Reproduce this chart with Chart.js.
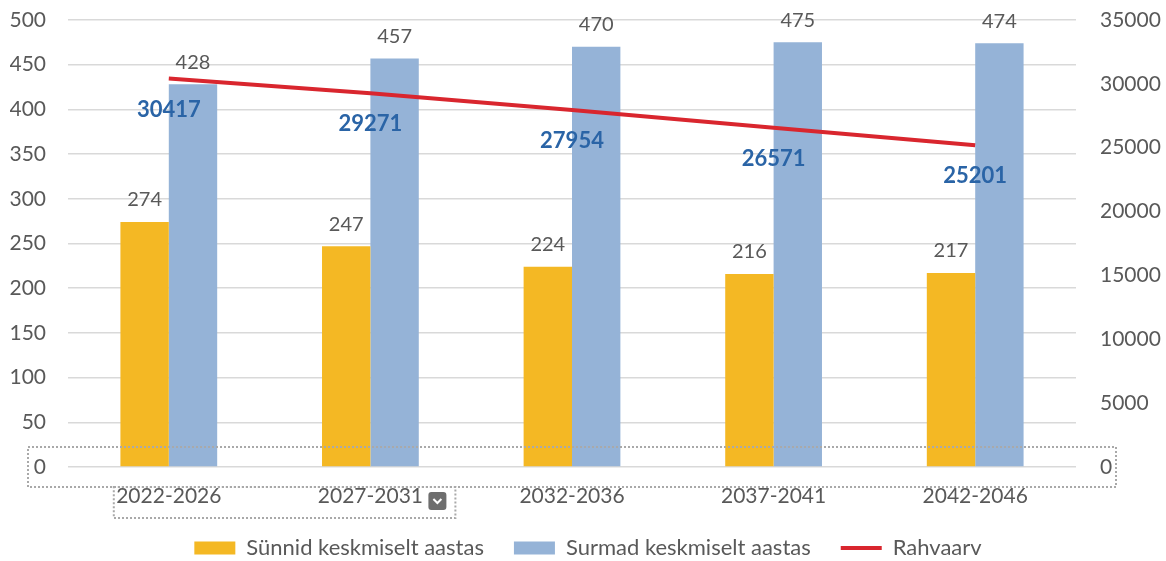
<!DOCTYPE html>
<html>
<head>
<meta charset="utf-8">
<script src="https://cdn.jsdelivr.net/npm/chart.js@4.4.0/dist/chart.umd.min.js"></script>
<style>
  body { margin: 0; background: #fff; }
  #wrap { width: 1166px; height: 561px; }
</style>
</head>
<body>
<div id="wrap"><canvas id="chart" width="1166" height="561"></canvas></div>
<script>
const periods = ["2022-2026", "2027-2031", "2032-2036", "2037-2041", "2042-2046"];
const births = [274, 247, 224, 216, 217];
const deaths = [428, 457, 470, 475, 474];
const population = [30417, 29271, 27954, 26571, 25201];

const FONT = "Lato, 'Liberation Sans', sans-serif";
const GREY = '#595959';

// value labels over bars and under the line points
const valueLabels = {
  id: 'valueLabels',
  afterDatasetsDraw(chart) {
    const ctx = chart.ctx;
    ctx.save();
    ctx.textAlign = 'center';
    ctx.textBaseline = 'middle';
    chart.data.datasets.forEach((ds, i) => {
      const meta = chart.getDatasetMeta(i);
      meta.data.forEach((el, j) => {
        if (ds.type === 'line') {
          ctx.font = "bold 22px " + FONT;
          ctx.fillStyle = '#2a64a6';
          ctx.fillText(ds.data[j], el.x, el.y + 31);
        } else {
          ctx.font = "20px " + FONT;
          ctx.fillStyle = GREY;
          ctx.fillText(ds.data[j], el.x, el.y - 22);
        }
      });
    });
    ctx.restore();
  }
};

// dotted selection frame around the axis area, like in the screenshot
const selectionFrame = {
  id: 'selectionFrame',
  afterDraw(chart) {
    const ctx = chart.ctx;
    const a = chart.chartArea;
    const x = chart.scales.x;
    ctx.save();
    ctx.strokeStyle = '#a9a9a9';
    ctx.lineWidth = 2;
    ctx.setLineDash([2, 2]);
    ctx.strokeRect(28, a.bottom - 20, 1088, 40);
    const x0 = x.getPixelForTick(0), x1 = x.getPixelForTick(1);
    ctx.strokeRect(x0 - 55, a.bottom + 20, x1 - x0 + 140, 31);
    ctx.setLineDash([]);
    // small dropdown button
    const bx = x1 + 58, by = a.bottom + 25;
    ctx.fillStyle = '#6e6e6e';
    ctx.beginPath();
    ctx.roundRect(bx, by, 18, 18, 3);
    ctx.fill();
    ctx.strokeStyle = '#fff';
    ctx.lineWidth = 2;
    ctx.beginPath();
    ctx.moveTo(bx + 5, by + 7);
    ctx.lineTo(bx + 9, by + 11);
    ctx.lineTo(bx + 13, by + 7);
    ctx.stroke();
    ctx.restore();
  }
};

new Chart(document.getElementById('chart'), {
  data: {
    labels: periods,
    datasets: [
      {
        type: 'bar', label: 'Sünnid keskmiselt aastas', data: births,
        backgroundColor: '#f4b824', yAxisID: 'y', order: 1,
        categoryPercentage: 0.48, barPercentage: 1
      },
      {
        type: 'bar', label: 'Surmad keskmiselt aastas', data: deaths,
        backgroundColor: '#95b3d7', yAxisID: 'y', order: 1,
        categoryPercentage: 0.48, barPercentage: 1
      },
      {
        type: 'line', label: 'Rahvaarv', data: population,
        borderColor: '#d9262e', backgroundColor: '#d9262e', borderWidth: 4,
        pointRadius: 0, yAxisID: 'y2', order: 0, tension: 0
      }
    ]
  },
  options: {
    responsive: false,
    animation: false,
    layout: { padding: { left: 10, right: 0, top: 20, bottom: -8 } },
    plugins: {
      tooltip: { enabled: false },
      legend: {
        position: 'bottom',
        labels: {
          font: { family: FONT, size: 22 },
          color: GREY,
          usePointStyle: true,
          pointStyleWidth: 41,
          boxHeight: 13,
          padding: 30,
          sort: (a, b) => a.datasetIndex - b.datasetIndex,
          generateLabels(chart) {
            const items = Chart.defaults.plugins.legend.labels.generateLabels(chart);
            items.forEach(it => {
              const ds = chart.data.datasets[it.datasetIndex];
              it.pointStyle = ds.type === 'line' ? 'line' : 'rect';
              it.lineWidth = ds.type === 'line' ? 4 : 0;
              it.fontColor = GREY;
            });
            return items;
          }
        }
      }
    },
    scales: {
      x: {
        grid: { display: false },
        border: { display: false },
        ticks: { color: GREY, font: { family: FONT, size: 21 }, padding: 9 },
        afterFit(s) { s.height = 40; }
      },
      y: {
        position: 'left',
        min: 0, max: 500,
        ticks: { stepSize: 50, color: GREY, font: { family: FONT, size: 21 }, padding: 22 },
        grid: { color: '#d9d9d9', lineWidth: 1.5, drawTicks: false },
        border: { display: false },
        afterFit(s) { s.width = 58; s.paddingTop = 0; }
      },
      y2: {
        position: 'right',
        min: 0, max: 35000,
        ticks: { stepSize: 5000, color: GREY, font: { family: FONT, size: 21 }, padding: 24,
                 callback: v => String(v) },
        grid: { display: false, drawTicks: false },
        border: { display: false },
        afterFit(s) { s.width = 90; s.paddingTop = 0; }
      }
    }
  },
  plugins: [valueLabels, selectionFrame]
});
</script>
</body>
</html>
